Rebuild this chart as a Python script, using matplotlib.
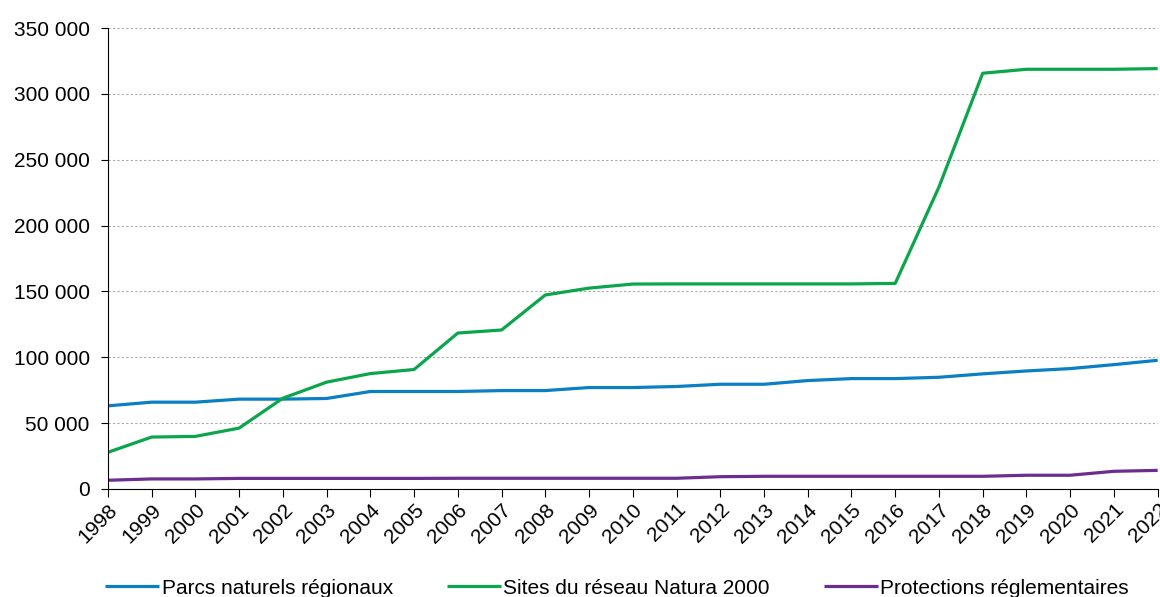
import matplotlib.pyplot as plt
from matplotlib.ticker import FuncFormatter

plt.rcParams['font.family'] = ['Liberation Sans', 'DejaVu Sans']

years = list(range(1998, 2023))

# surfaces (ha)
parcs = [63100, 65900, 65900, 68200, 68200, 68700, 74000, 74000, 74000, 74700,
         74700, 77000, 77000, 77800, 79500, 79500, 82300, 83800, 83800, 84800,
         87400, 89600, 91400, 94400, 97700]
natura = [27800, 39400, 39900, 46200, 68900, 81100, 87600, 90700, 118400, 120700,
          147300, 152500, 155600, 155700, 155700, 155700, 155700, 155700, 156100, 229300,
          315700, 318700, 318700, 318700, 319200]
protections = [6600, 7600, 7600, 8000, 8000, 8000, 8000, 8000, 8100, 8100,
               8100, 8100, 8100, 8100, 9300, 9600, 9600, 9600, 9600, 9600,
               9600, 10400, 10400, 13400, 14100]

labels = ['Parcs naturels régionaux', 'Sites du réseau Natura 2000', 'Protections réglementaires']
colors = ['#0A7FC4', '#0BA64B', '#6B2D90']

fig, ax = plt.subplots(figsize=(11.6, 5.97), dpi=100)
fig.subplots_adjust(left=0.093, right=0.998, top=0.953, bottom=0.181)

for vals, lab, col in zip([parcs, natura, protections], labels, colors):
    ax.plot(years, vals, color=col, lw=2.3, label=lab, solid_capstyle='butt')

ax.set_xlim(1998, 2022)
ax.set_ylim(0, 350000)
ax.set_yticks(range(0, 350001, 50000))
ax.yaxis.set_major_formatter(FuncFormatter(lambda v, p: f'{int(v):,}'.replace(',', ' ')))
ax.set_xticks(years)
ax.set_xticklabels([str(y) for y in years], rotation=45, ha='right', rotation_mode='anchor')

ax.grid(axis='y', color='#AAAAAA', linestyle=(0, (2, 2)), linewidth=0.8)
ax.set_axisbelow(True)
for s in ['top', 'right']:
    ax.spines[s].set_visible(False)
ax.spines['left'].set_color('black')
ax.spines['bottom'].set_color('black')
ax.tick_params(axis='y', length=5, labelsize=15, pad=8)
ax.tick_params(axis='x', length=6, labelsize=15, pad=2)

ax.legend(loc='center', bbox_to_anchor=(0.485, -0.215), ncol=3, frameon=False,
          fontsize=15, handlelength=2.6, columnspacing=2.6, handletextpad=0.1)

fig.savefig('out.png', dpi=100)
